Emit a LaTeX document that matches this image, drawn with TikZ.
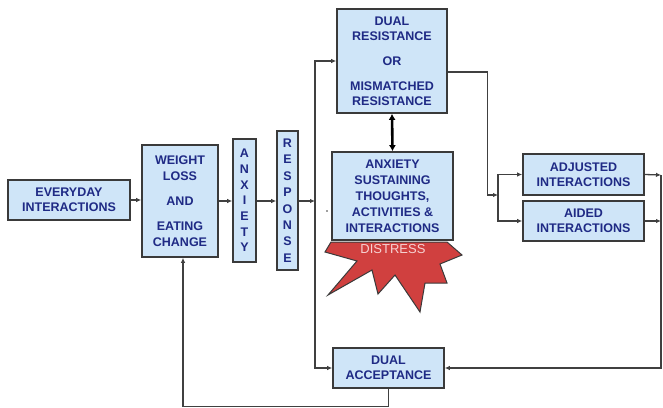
\documentclass[tikz,border=0pt]{standalone}
\usepackage{fontspec}
\setmainfont{Liberation Sans}
\usetikzlibrary{arrows.meta,calc}
\definecolor{boxfill}{HTML}{CFE5F8}
\definecolor{boxline}{HTML}{3A3A3A}
\definecolor{txt}{HTML}{1F2A85}
\definecolor{wire}{HTML}{404040}
\definecolor{burst}{HTML}{D0403F}
\definecolor{bursttxt}{HTML}{F6D2D2}
\tikzset{
  blk/.style={draw=boxline, line width=1.6pt, fill=boxfill, text=txt, align=center,
    inner sep=0pt, font=\bfseries\fontsize{12.5}{14.5}\selectfont},
  arr/.style={draw=wire, line width=1.3pt, -{Latex[length=5pt,width=4.5pt]}},
  dbl/.style={draw=black, line width=2.6pt, {Latex[length=6pt,width=7pt]}-{Latex[length=6pt,width=7pt]}},
}
\begin{document}
\begin{tikzpicture}[x=1pt,y=-1pt]
\useasboundingbox (0,0) rectangle (663,407);
\fill[white] (0,0) rectangle (663,407);
% starburst behind the sustaining box
\filldraw[fill=burst, draw=boxline, line width=1pt, line join=miter]
  (331,242) -- (325,252) -- (357,261) -- (328,295) -- (372,270) -- (378,294)
  -- (395,275) -- (420,312) -- (425,283) -- (447,283) -- (440,264) -- (462,255)
  -- (447,242) -- cycle;
\node[text=bursttxt, font=\fontsize{13}{15}\selectfont] (distress) at (393,249) {DISTRESS};

\node[blk, minimum width=122pt, minimum height=40pt] (every) at (69,200) {EVERYDAY\\INTERACTIONS};
\node[blk, minimum width=76pt, minimum height=112pt, font=\bfseries\fontsize{12.5}{16}\selectfont] (weight) at (180,201)
  {WEIGHT\\LOSS\\[9pt]AND\\[9pt]EATING\\CHANGE};
\node[blk, minimum width=23pt, minimum height=123pt, font=\bfseries\fontsize{12.5}{15.7}\selectfont] (anx) at (244.5,200.5)
  {A\\N\\X\\I\\E\\T\\Y};
\node[blk, minimum width=21pt, minimum height=139pt, font=\bfseries\fontsize{12.5}{16.4}\selectfont] (resp) at (287.5,200.5)
  {R\\E\\S\\P\\O\\N\\S\\E};
\node[blk, minimum width=110pt, minimum height=104pt, font=\bfseries\fontsize{12.5}{15}\selectfont] (res) at (392,61)
  {DUAL\\RESISTANCE\\[10pt]OR\\[10pt]MISMATCHED\\RESISTANCE};
\node[blk, minimum width=121pt, minimum height=88pt, font=\bfseries\fontsize{12.5}{16}\selectfont] (sust) at (392.5,196)
  {ANXIETY\\SUSTAINING\\THOUGHTS,\\ACTIVITIES \&\\INTERACTIONS};
\node[blk, minimum width=121pt, minimum height=41pt] (adj) at (583.5,174.5) {ADJUSTED\\INTERACTIONS};
\node[blk, minimum width=121pt, minimum height=40pt] (aid) at (583.5,221) {AIDED\\INTERACTIONS};
\node[blk, minimum width=111pt, minimum height=40pt] (acc) at (388.5,368) {DUAL\\ACCEPTANCE};

\coordinate (vbus) at (315,201);
\coordinate (jn) at (498,195);
\coordinate (rbus) at (661,175);

\draw[arr] (every.east) -- (weight.west |- every.east);
\draw[arr] (weight.east |- vbus) -- (anx.west |- vbus);
\draw[arr] (anx.east |- vbus) -- (resp.west |- vbus);
\draw[arr] (resp.east |- vbus) -- (vbus);
\draw[arr] (vbus) |- (res.west);
\draw[arr] (vbus) |- (acc.west);
\draw[dbl] (res.south) -- (sust.north);
\draw[arr] ([yshift=-11pt]res.east) -- ++(40,0) |- (jn);
\draw[arr] (jn) |- (adj.west);
\draw[arr] (jn) |- (aid.west);
\draw[arr] (adj.east) -- (rbus);
\draw[arr] (aid.east) -- (aid.east -| rbus);
\draw[arr] (rbus) |- (acc.east);
\draw[arr] (acc.south) -- ++(0,18) -| ([xshift=3pt]weight.south);
\fill[wire] (327,211) circle (0.8pt);
\end{tikzpicture}
\end{document}
